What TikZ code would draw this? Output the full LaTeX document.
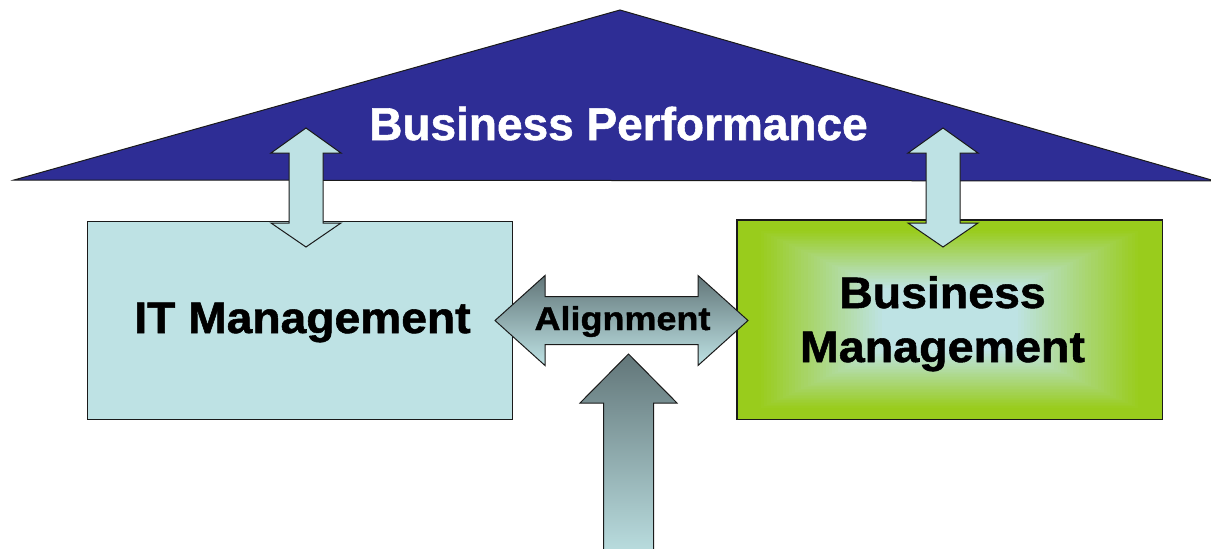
\documentclass[tikz,border=0pt]{standalone}
\usepackage{fontspec}
\usepackage{graphicx}
\setmainfont{Liberation Sans}
\newfontfamily\heavysans[FakeBold=1.2]{Liberation Sans Bold}
\usetikzlibrary{calc}

\definecolor{roofblue}{HTML}{2E2D95}
\definecolor{paleblue}{HTML}{BEE2E4}
\definecolor{bmgreen}{HTML}{99CC1C}
\definecolor{bmcenter}{HTML}{BEE3E4}
\definecolor{steel}{HTML}{627679}
\definecolor{edge}{HTML}{1A1A1A}

\tikzset{
  outline/.style={draw=edge, line width=1pt, line join=miter},
  roof/.style={outline, fill=roofblue},
  mgmtbox/.style={outline, rectangle, inner sep=0pt},
  linkarrow/.style={outline, fill=paleblue},
  steelarrow/.style={outline, top color=steel, bottom color=paleblue},
  label/.style={inner sep=0pt, anchor=base},
}

\begin{document}
\begin{tikzpicture}[x=1pt, y=-1pt]
  \useasboundingbox (0,0) rectangle (1211,549);

  % roof
  \coordinate (roofL) at (14,180);
  \coordinate (roofT) at (620,10);
  \coordinate (roofR) at (1215,181);
  \draw[roof] (roofL) -- (roofT) -- (roofR) -- cycle;

  % management boxes
  \node[mgmtbox, fill=paleblue, minimum width=425pt, minimum height=198pt]
    (it) at (299.5,320) {};
  \node[mgmtbox, fill=bmgreen, minimum width=425pt, minimum height=199pt]
    (bm) at (949.5,319.5) {};
  % rectangular glow: nested rectangles fading from green to pale blue
  \foreach \i in {1,...,40}{
    \pgfmathsetmacro\s{0.9-0.58*\i/40}
    \pgfmathsetmacro\hw{212.5*\s}
    \pgfmathsetmacro\hh{99.5*\s}
    \pgfmathtruncatemacro\p{100*\i/40}
    \fill[bmcenter!\p!bmgreen]
      ($(bm.center)+(-\hw,-\hh)$) rectangle ($(bm.center)+(\hw,\hh)$);
  }
  \draw[outline] (bm.north west) rectangle (bm.south east);

  % vertical double arrows between roof and boxes
  \coordinate (itUp) at (306,128);
  \coordinate (bmUp) at (943,128);
  \draw[linkarrow] (itUp) -- ++(35,25) -- ++(-18,0) -- ++(0,70) -- ++(18,0)
    -- ++(-35,24) -- ++(-35,-24) -- ++(18,0) -- ++(0,-70) -- ++(-18,0) -- cycle;
  \draw[linkarrow] (bmUp) -- ++(35,25) -- ++(-18,0) -- ++(0,70) -- ++(18,0)
    -- ++(-35,24) -- ++(-35,-24) -- ++(18,0) -- ++(0,-70) -- ++(-18,0) -- cycle;

  % alignment double arrow between the boxes
  \coordinate (alignL) at (495,320.5);
  \coordinate (alignR) at (748,320.5);
  \draw[steelarrow] (alignL) -- ++(50,-45) -- ++(0,21) -- ++(153,0) -- ++(0,-21)
    -- (alignR) -- ++(-50,45) -- ++(0,-21) -- ++(-153,0) -- ++(0,21) -- cycle;

  % rising arrow from below
  \coordinate (upTip) at (628.5,354);
  \draw[steelarrow] (upTip) -- ++(48.5,49) -- ++(-23.5,0) -- ++(0,160)
    -- ++(-50,0) -- ++(0,-160) -- ++(-23.5,0) -- cycle;

  % labels
  \node[label, text=white, font=\heavysans\fontsize{46}{52}\selectfont]
    (perf) at (618.5,140) {Business Performance};
  \node[label, font=\heavysans\fontsize{44}{52}\selectfont]
    (itlabel) at (302.5,333) {\scalebox{1.05}[1]{IT Management}};
  \node[label, font=\heavysans\fontsize{44}{52}\selectfont]
    (bmlabelA) at (942.5,308) {\scalebox{1.055}[1]{Business}};
  \node[label, font=\heavysans\fontsize{44}{52}\selectfont]
    (bmlabelB) at (942.5,362) {\scalebox{1.06}[1]{Management}};
  \node[label, font=\heavysans\fontsize{33}{40}\selectfont]
    (alignlabel) at (622.5,330) {\scalebox{1.09}[1]{Alignment}};
\end{tikzpicture}
\end{document}
